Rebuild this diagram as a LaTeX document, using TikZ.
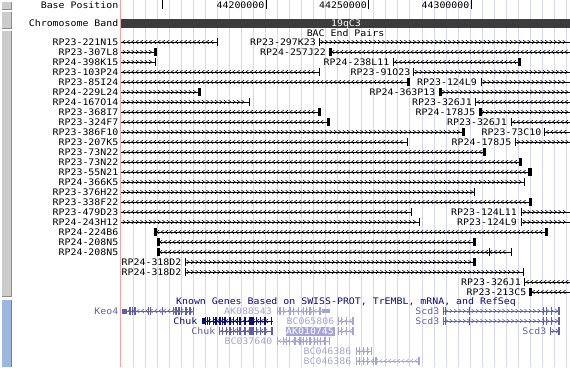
\documentclass[tikz,border=0pt]{standalone}
\usepackage{fontspec}
\newfontfamily\ucsc[FakeStretch=1.1]{DejaVu Sans Mono}
\definecolor{gridc}{RGB}{216,216,244}
\definecolor{redl}{RGB}{244,164,164}
\definecolor{bandc}{RGB}{60,60,60}
\definecolor{navy}{RGB}{12,12,120}
\definecolor{midg}{RGB}{96,96,170}
\definecolor{lightg}{RGB}{164,164,214}
\definecolor{btn}{RGB}{204,204,204}
\definecolor{btnd}{RGB}{140,140,140}
\definecolor{bblue}{RGB}{157,184,224}
\definecolor{bblued}{RGB}{96,128,192}
\tikzset{
 lab/.style={font=\ucsc\fontsize{9}{10}\selectfont, inner sep=0pt, text height=6.5pt, text depth=0pt},
 bacline/.style={line width=1pt, black},
}
% chevrons: y, x1, x2, dir(-1 left,1 right), colour
\newcommand\chevs[5]{%
 \pgfmathsetmacro\cxa{#2+3}\pgfmathsetmacro\cxb{#2+7.4}\pgfmathsetmacro\cxc{#3-2.5}%
 \foreach \cx in {\cxa,\cxb,...,\cxc}{\draw[line width=0.6pt,#5] ({\cx-(#4)*1.2},{#1-1.8}) -- ({\cx+(#4)*1.2},#1) -- ({\cx-(#4)*1.2},{#1+1.8});}}
\newcommand\bac[4]{\draw[bacline] (#2,#1) -- (#3,#1); \chevs{#1}{#2}{#3}{#4}{black}}
\newcommand\bthin[2]{\draw[line width=1pt] (#1,{#2-4}) -- (#1,{#2+4});}
\newcommand\bthick[2]{\fill ({#1-1.5},{#2-4}) rectangle ({#1+1.5},{#2+4});}
% gene: y, x1, x2, dir, colour, exon list
\newcommand\gene[6]{\draw[#5,line width=1pt] (#2,#1) -- (#3,#1); \chevs{#1}{#2}{#3}{#4}{#5}%
 \foreach \gx in {#6}{\fill[#5] ({\gx-0.6},{#1-4}) rectangle ({\gx+0.6},{#1+4});}}
\begin{document}
\begin{tikzpicture}[x=1pt,y=-1pt]
\useasboundingbox (0,0) rectangle (570,367);
\fill[white] (0,0) rectangle (570,367);
% side buttons
\foreach \ya/\yb in {2/9, 12/28.5, 31/296.5}{\fill[btn] (1.5,\ya) rectangle (11.5,\yb); \draw[btnd] (11.5,\ya) -- (11.5,\yb) -- (1.5,\yb);}
\fill[bblue] (1.5,299.5) rectangle (11.5,367);
\draw[bblued] (11.5,299.5) -- (11.5,367);
% grid
\foreach \k in {0,...,36}{\draw[gridc, line width=1pt] ({133.3+12.03*\k},0) -- ({133.3+12.03*\k},367);}
\draw[redl, line width=1pt] (120.5,0) -- (120.5,367);
% base position
\node[lab, anchor=east] (bp) at (118.5,5) {Base Position};
\foreach \t in {162.5,266,368.5,471}{\draw[line width=1pt] (\t,0) -- (\t,9);}
\node[lab, anchor=east] (p1) at (264.5,5) {44200000};
\node[lab, anchor=east] (p2) at (367,5) {44250000};
\node[lab, anchor=east] (p3) at (469.5,5) {44300000};
% chromosome band
\node[lab, anchor=east] (cb) at (118.5,23) {Chromosome Band};
\fill[bandc] (121,19) rectangle (570,27.5);
\node[lab, text=white] (band) at (346,23.2) {19qC3};
% BAC end pairs
\node[lab] (bactitle) at (345.5,33) {BAC End Pairs};
\foreach \i/\t in {0/RP23-221N15,1/RP23-307L8,2/RP24-398K15,3/RP23-103P24,4/RP23-85I24,5/RP24-229L24,6/RP24-167O14,7/RP23-368I7,8/RP23-324F7,9/RP23-386F10,10/RP23-207K5,11/RP23-73N22,12/RP23-73N22,13/RP23-55N21,14/RP24-366K5,15/RP23-376H22,16/RP23-338F22,17/RP23-479D23,18/RP24-243H12,19/RP24-224B6,20/RP24-208N5,21/RP24-208N5}{\node[lab, anchor=east] (L\i) at (118.5,{42+10*\i}) {\t};}
% row 0
\bac{42}{121}{217}{-1}\bthin{217}{42}
\node[lab, anchor=east] (r0) at (316,42) {RP23-297K23};
\bthin{319}{42}\bac{42}{319}{570}{1}
% row 1
\bac{52}{121}{155}{1}\bthick{155}{52}
\node[lab, anchor=east] (r1) at (326,52) {RP24-257J22};
\bthick{330}{52}\bac{52}{330}{570}{-1}
% row 2
\bac{62}{121}{155}{1}\bthin{155}{62}
\node[lab, anchor=east] (r2) at (389.5,62) {RP24-238L11};
\bthin{393}{62}\bac{62}{393}{519}{-1}\bthick{519}{62}
% row 3
\bac{72}{121}{319}{-1}\bthin{319}{72}
\node[lab, anchor=east] (r3) at (410.5,72) {RP23-91O23};
\bthin{413.5}{72}\bac{72}{413.5}{570}{1}
% row 4
\bac{82}{121}{408}{-1}\bthick{408}{82}
\node[lab, anchor=east] (r4) at (477,82) {RP23-124L9};
\bthin{481.5}{82}\bac{82}{481.5}{570}{1}
% row 5
\bac{92}{121}{199}{1}\bthick{199}{92}
\node[lab, anchor=east] (r5) at (435.5,92) {RP24-363P13};
\bthick{440.5}{92}\bac{92}{440.5}{570}{1}
% row 6
\bac{102}{121}{249}{1}\bthin{249}{102}
\node[lab, anchor=east] (r6) at (472,102) {RP23-326J1};
\bthin{475.5}{102}\bac{102}{475.5}{570}{-1}
% row 7
\bac{112}{121}{319}{-1}\bthick{319}{112}
\node[lab, anchor=east] (r7) at (475.5,112) {RP24-178J5};
\bthick{480}{112}\bac{112}{480}{570}{1}
% row 8
\bac{122}{121}{328}{-1}\bthick{328}{122}
\node[lab, anchor=east] (r8) at (507,122) {RP23-326J1};
\bthin{511}{122}\bac{122}{511}{570}{-1}
% row 9
\bac{132}{121}{463}{1}\bthick{463}{132}
\node[lab, anchor=east] (r9) at (541.5,132) {RP23-73C10};
\bthin{544.5}{132}\bac{132}{544.5}{570}{-1}
% row 10
\bac{142}{121}{407}{-1}\bthin{407}{142}
\node[lab, anchor=east] (r10) at (511.5,142) {RP24-178J5};
\bthin{515.5}{142}\bac{142}{515.5}{570}{1}
% rows 11-16
\bac{152}{121}{484}{-1}\bthick{484}{152}
\bac{162}{121}{520}{-1}\bthick{520}{162}
\bac{172}{121}{529.5}{-1}\fill (527.5,168) rectangle (531.5,176);
\bac{182}{121}{524.5}{1}\bthin{524.5}{182}
\bac{192}{121}{474.5}{1}\bthin{474.5}{192}
\bac{202}{121}{530}{-1}\bthick{530}{202}
% row 17
\bac{212}{121}{411.5}{-1}\bthin{411.5}{212}
\node[lab, anchor=east] (r17) at (517,212) {RP23-124L11};
\bthin{521.5}{212}\bac{212}{521.5}{570}{1}
% row 18
\bac{222}{121}{419.5}{1}\bthin{419.5}{222}
\node[lab, anchor=east] (r18) at (517,222) {RP23-124L9};
\bthin{521.5}{222}\bac{222}{521.5}{570}{1}
% rows 19-21
\bthick{155}{232}\bac{232}{155}{546.5}{-1}\bthick{546.5}{232}
\bthick{158}{242}\bac{242}{158}{474.5}{-1}\bthick{474.5}{242}
\bthick{158}{252}\bac{252}{158}{511}{-1}\bthin{489.5}{252}\bthin{511}{252}
% rows 22-23
\node[lab, anchor=west] (r22) at (121.5,262) {RP24-318D2};
\bthin{185}{262}\bac{262}{185}{474.5}{1}\bthick{474.5}{262}
\node[lab, anchor=west] (r23) at (121.5,272) {RP24-318D2};
\bthin{185}{272}\bac{272}{185}{523.5}{1}\bthin{523.5}{272}
% rows 24-25
\node[lab, anchor=east] (r24) at (521,282) {RP23-326J1};
\bthin{524.5}{282}\bac{282}{524.5}{570}{-1}
\node[lab, anchor=east] (r25) at (526.5,292) {RP23-213C5};
\bthick{530.5}{292}\bac{292}{530.5}{570}{-1}
% Known genes
\node[lab, text=navy] (kgtitle) at (346,301.5) {Known Genes Based on SWISS-PROT, TrEMBL, mRNA, and RefSeq};
% Keo4
\node[lab, anchor=east, text=midg] (g1) at (118.5,311) {Keo4};
\gene{311}{122}{194}{-1}{midg}{130,132.7,135,148.3,150.7,162.7,173.3,176,179,181.7,186,190,193.3}
\fill[midg] (122,308.5) rectangle (127,313.5);
% AK088543
\node[lab, anchor=east, text=lightg] (g2) at (272,311) {AK088543};
\gene{311}{277}{330}{-1}{lightg}{277.5,280,283.3,290,293.3,298.3,303.3,306.7,310,313.3,320}
\fill[lightg] (322,309) rectangle (330,313);
% Scd3 row 311
\node[lab, anchor=east, text=midg] (g3) at (439.5,311) {Scd3};
\gene{311}{443.5}{559.5}{1}{midg}{443.5,445.5,469.5,543.5,546.5,551.5,559}
% Chuk navy
\node[lab, anchor=east, text=navy] (g4) at (197.5,321) {Chuk};
\gene{321}{202}{272.5}{-1}{navy}{205.3,207.3,209.3,213.3,216,220,222.7,225,230,233.3,237.3,240,245,256.7,260.7,265,271.7}
\fill[navy] (201.5,318) rectangle (204.5,324);
\fill[navy] (249,317) rectangle (253.5,325);
% BC065806
\node[lab, anchor=east, text=lightg] (g5) at (334.5,321) {BC065806};
\gene{321}{338.5}{353.5}{-1}{lightg}{338.8,341.7,346.7,353}
% Scd3 row 321
\node[lab, anchor=east, text=midg] (g6) at (439.5,321) {Scd3};
\gene{321}{443.5}{559.5}{1}{midg}{443.5,445.5,469.5,543.5,546.5,551.5,559}
% Chuk mid
\node[lab, anchor=east, text=midg] (g7) at (215.5,331) {Chuk};
\gene{331}{219}{272.5}{-1}{midg}{219.5,222.7,226.7,230,233.3,237.3,240,245,256.7,260.7,265,272}
\fill[midg] (249,327) rectangle (253.5,335);
% AK010745 highlighted
\fill[lightg] (285.5,326.5) rectangle (334.5,335.5);
\node[lab, text=white] (g8) at (310,331) {AK010745};
\gene{331}{338.5}{353.5}{-1}{lightg}{338.8,341.7,346.7,353}
% Scd3 short
\node[lab, anchor=east, text=midg] (g9) at (546.5,331) {Scd3};
\gene{331}{550}{559.5}{1}{midg}{550.5,559}
% BC037640
\node[lab, anchor=east, text=lightg] (g10) at (272.5,341) {BC037640};
\gene{341}{277}{330}{-1}{lightg}{277.5,283.3,286.7,289.3,295,300,303.3,306.7,310,314.3,317.3,320.7,325,329.3}
% BC046386
\node[lab, anchor=east, text=lightg] (g11) at (351.5,351) {BC046386};
\gene{351}{356}{372}{-1}{lightg}{356.5,359.3,363.3,367.3,371.7}
\node[lab, anchor=east, text=lightg] (g12) at (351.5,361) {BC046386};
\gene{361}{356}{419.5}{-1}{lightg}{356.5,359.3,363.3,367.3,373.5,376,419}
\end{tikzpicture}
\end{document}
